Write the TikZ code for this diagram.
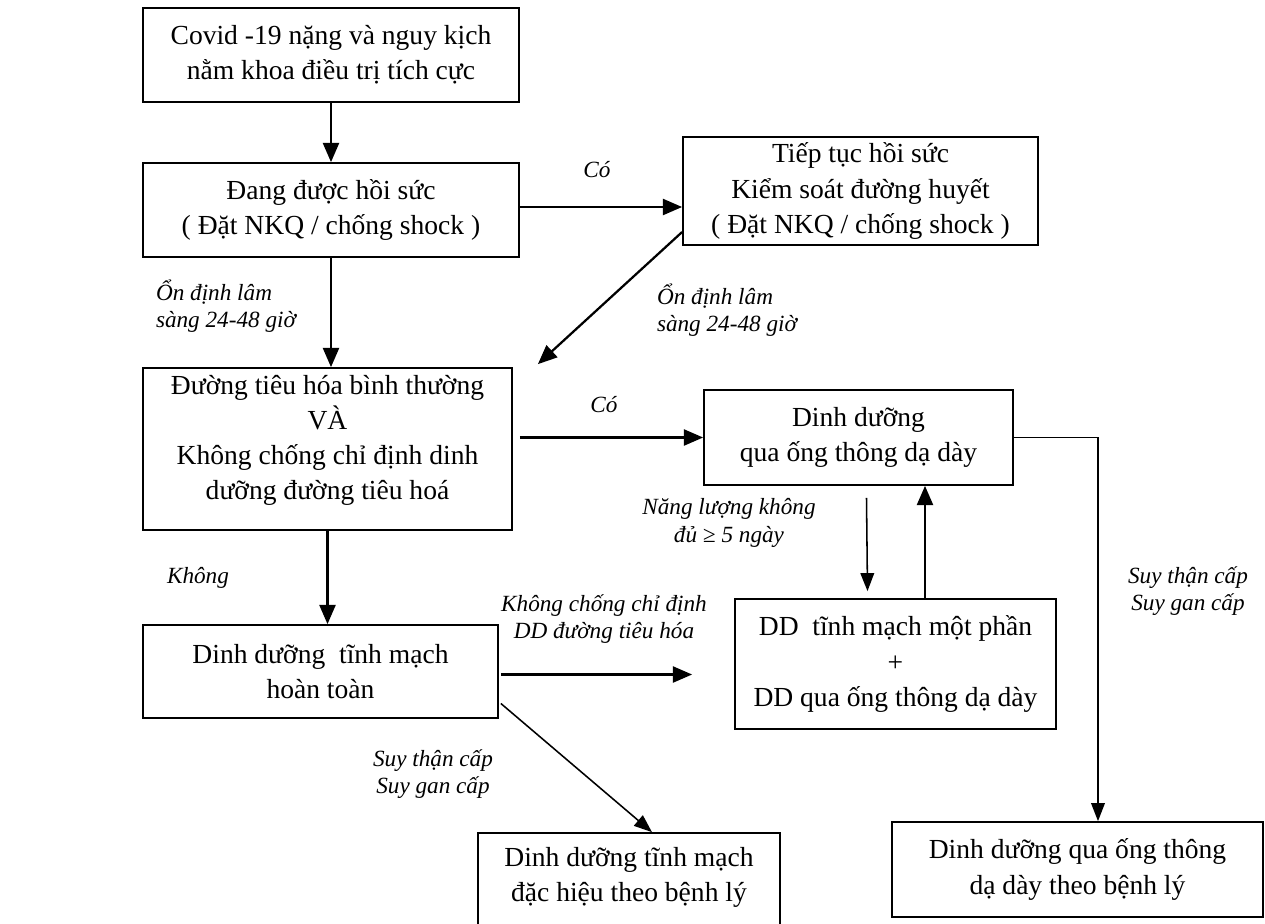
\documentclass[tikz,border=0pt]{standalone}
\usepackage{fontspec}
\setmainfont{Liberation Serif}
\usetikzlibrary{positioning,calc,arrows.meta}
\tikzstyle{block} = [rectangle, draw, line width=1.2pt, fill=white,
    align=center, font=\fontsize{19.6}{25}\selectfont, inner sep=4pt]
\tikzstyle{cond} = [align=center, font=\fontsize{16.5}{19.5}\selectfont\itshape]
\tikzstyle{line} = [draw, line width=1.6pt, -{Triangle[length=0.48cm,width=0.4cm]}]
\tikzstyle{thinline} = [draw, line width=1.1pt, -{Triangle[length=0.45cm,width=0.34cm]}]

\begin{document}
\begin{tikzpicture}[x=0.025cm, y=-0.025cm]
    \useasboundingbox (0,0) rectangle (1265,923);
        % Nodes
    \node [block, minimum width=9.4cm, minimum height=2.35cm] (covid) at (331,55)
        {Covid -19 nặng và nguy kịch\\nằm khoa điều trị tích cực};
    \node [block, minimum width=9.4cm, minimum height=2.35cm] (hoisuc) at (331,210)
        {Đang được hồi sức\\( Đặt NKQ / chống shock )};
    \node [block, minimum width=8.875cm, minimum height=2.7cm] (tieptuc) at (860.5,191)
        {Tiếp tục hồi sức\\Kiểm soát đường huyết\\( Đặt NKQ / chống shock )};
    \node [block, minimum width=9.225cm, minimum height=4.05cm] (tieuhoa) at (327.5,449)
        {Đường tiêu hóa bình thường\\VÀ\\Không chống chỉ định dinh\\dưỡng đường tiêu hoá\\[-0.3cm]\mbox{}};
    \node [block, minimum width=7.725cm, minimum height=2.375cm] (ongthong) at (858.5,437.5)
        {Dinh dưỡng\\qua ống thông dạ dày};
    \node [block, minimum width=8.025cm, minimum height=3.25cm] (motphan) at (895.5,664)
        {DD\ \ tĩnh mạch một phần\\+\\DD qua ống thông dạ dày};
    \node [block, minimum width=8.875cm, minimum height=2.325cm] (hoantoan) at (320.5,671.5)
        {Dinh dưỡng\ \ tĩnh mạch\\hoàn toàn};
    \node [block, minimum width=7.55cm, minimum height=2.35cm] (dachieu) at (629,880)
        {Dinh dưỡng tĩnh mạch\\đặc hiệu theo bệnh lý\\[-0.6cm]\mbox{}};
    \node [block, minimum width=9.275cm, minimum height=2.375cm] (benhly) at (1077.5,869.5)
        {Dinh dưỡng qua ống thông\\dạ dày theo bệnh lý};
        % Labels
    \node [cond] (co1) at (597,170) {Có};
    \node [cond, align=left] (ondinh1) at (226,306) {Ổn định lâm\\sàng 24-48 giờ};
    \node [cond, align=left] (ondinh2) at (727,310) {Ổn định lâm\\sàng 24-48 giờ};
    \node [cond] (co2) at (604,405) {Có};
    \node [cond] (nangluong) at (729,523) {Năng lượng không\\đủ ≥ 5 ngày};
    \node [cond] (khong) at (198,578) {Không};
    \node [cond] (chongcd) at (604,619) {Không chống chỉ định\\DD đường tiêu hóa};
    \node [cond] (suy1) at (1188,591) {Suy thận cấp\\Suy gan cấp};
    \node [cond] (suy2) at (433,774) {Suy thận cấp\\Suy gan cấp};
        % Edges
    \path [line] (covid) -- (hoisuc);
    \path [line] ($(hoisuc.east)+(0,-3)$) -- ($(hoisuc.east -| tieptuc.west)+(0,-3)$);
    \path [line] (hoisuc.south) -- (hoisuc.south |- tieuhoa.north);
    \path [line] ($(tieptuc.west)+(0,41)$) -- ($(tieuhoa.north east)+(25,-3)$);
    \path [line] ($(ongthong.west -| tieuhoa.east)+(7,0)$) -- (ongthong.west);
    \path [thinline] ($(ongthong.south)+(8,12)$) -- ($(motphan.north)+(-28,-7)$);
    \path [line] ($(motphan.north)+(29.5,0)$) -- ($(ongthong.south)+(66.5,0)$);
    \path [thinline] (ongthong.east) -| ($(benhly.north)+(20.5,0)$);
    \path [line] (tieuhoa.south) -- (tieuhoa.south |- hoantoan.north);
    \path [line] ($(hoantoan.east)+(2,3)$) -- ($(hoantoan.east -| motphan.west)+(-42,3)$);
    \path [thinline] ($(hoantoan.east)+(2,32)$) -- ($(dachieu.north)+(23,0)$);
\end{tikzpicture}
\end{document}
